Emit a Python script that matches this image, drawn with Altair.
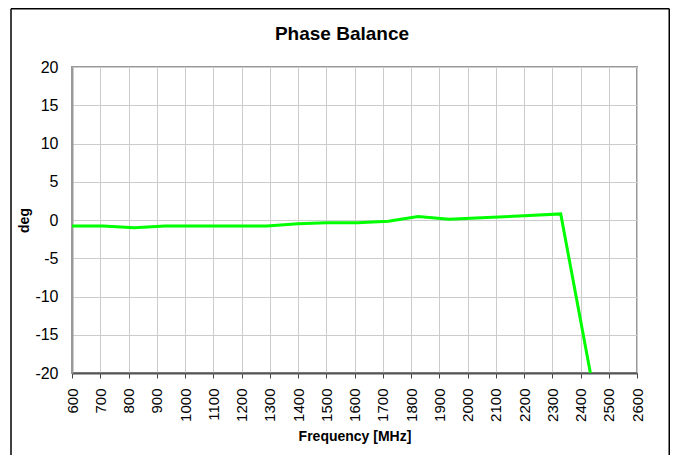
import altair as alt
import pandas as pd

freq = [600, 710, 820, 930, 1040, 1150, 1290, 1400, 1500, 1610, 1720, 1825, 1935, 2050, 2200, 2330, 2435]
deg = [-0.8, -0.8, -1.0, -0.8, -0.8, -0.8, -0.8, -0.5, -0.35, -0.35, -0.15, 0.45, 0.1, 0.3, 0.55, 0.8, -20]
title_text = ["Phase Balance"]

df = pd.DataFrame({"freq": freq, "deg": deg})

W, H = 565, 306
PL, PT, PR, PB = 64, 59, 33, 82

line = alt.Chart(df).mark_line(color="#00FF00", strokeWidth=3, clip=True).encode(
    x=alt.X("freq:Q", scale=alt.Scale(domain=[600, 2600], nice=False),
            axis=alt.Axis(values=list(range(600, 2601, 100)), labelAngle=-90,
                          labelExpr="'' + datum.value",
                          title="Frequency [MHz]", titleFontWeight="bold", titleFontSize=14,
                          labelFontSize=15, labelAlign="right", labelBaseline="middle",
                          labelPadding=10, tickSize=5, tickColor="#444", domainColor="#555",
                          domainWidth=2, titlePadding=8, gridColor="#cccccc",
                          labelFont="Liberation Sans", titleFont="Liberation Sans",
                          labelColor="#000", titleColor="#000")),
    y=alt.Y("deg:Q", scale=alt.Scale(domain=[-20, 20], nice=False),
            axis=alt.Axis(values=list(range(-20, 21, 5)), title="deg",
                          labelExpr="'' + datum.value",
                          titleFontWeight="bold", titleFontSize=14, labelFontSize=16,
                          tickSize=0, labelPadding=14, domainColor="#999", domainWidth=2,
                          titlePadding=3, gridColor="#cccccc",
                          labelFont="Liberation Sans", titleFont="Liberation Sans",
                          labelColor="#000", titleColor="#000")),
)

frame_df = pd.DataFrame({"a": [0]})
left_edge = alt.Chart(frame_df).mark_rule(color="#000", strokeWidth=1.5, clip=False).encode(
    x=alt.value(-PL + 3), y=alt.value(-PT + 0.75), y2=alt.value(H + PB))
top_edge = alt.Chart(frame_df).mark_rule(color="#000", strokeWidth=1.5, clip=False).encode(
    x=alt.value(-PL + 3), x2=alt.value(W + PR - 0.75), y=alt.value(-PT + 0.75))
right_edge = alt.Chart(frame_df).mark_rule(color="#000", strokeWidth=1.5, clip=False).encode(
    x=alt.value(W + PR - 0.75), y=alt.value(-PT + 0.75), y2=alt.value(H + PB))

title = alt.Chart(pd.DataFrame({"t": title_text})).mark_text(
    fontSize=19, fontWeight="bold", font="Liberation Sans", color="#000",
    align="center", baseline="middle", clip=False
).encode(text="t:N", x=alt.value(270), y=alt.value(-33))

chart = alt.layer(left_edge, top_edge, right_edge, line, title).properties(
    width=W, height=H,
    autosize=alt.AutoSizeParams(type="none"),
    padding={"left": PL, "top": PT, "right": PR, "bottom": PB},
).configure_view(stroke="#999", strokeWidth=2).configure_axis(gridWidth=1)

chart.save("out.html", embed_options={"renderer": "svg", "actions": False})
